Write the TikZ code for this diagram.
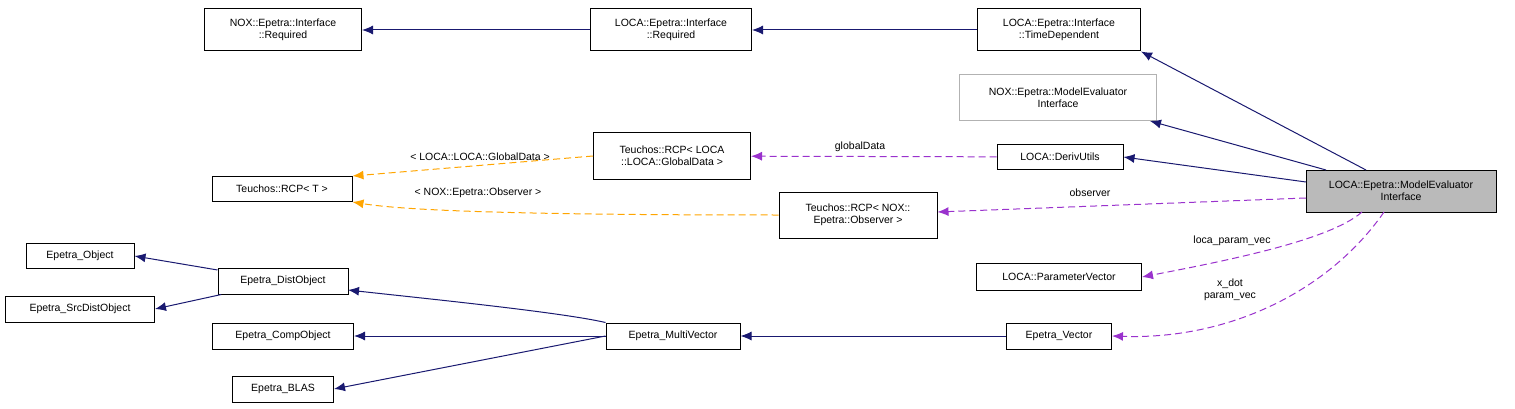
\documentclass[tikz,border=0pt]{standalone}
\usepackage{fontspec}
\setmainfont{Liberation Sans}
\usetikzlibrary{arrows.meta}
\definecolor{navy}{HTML}{191970}
\definecolor{purp}{HTML}{9A32CD}
\definecolor{orng}{HTML}{FFA500}
\begin{document}
\begin{tikzpicture}[x=1pt,y=-1pt,line width=1pt,
  box/.style={draw=black,fill=white,align=center,font=\fontsize{10.5}{12}\selectfont,inner sep=0pt,minimum height=#1},
  box/.default=26pt,
  inh/.style={draw=navy,-{Latex[length=11pt,width=9pt]}},
  use/.style={draw=purp,dash pattern=on 7pt off 4pt,-{Latex[length=11pt,width=9pt]}},
  tmpl/.style={draw=orng,dash pattern=on 7pt off 4pt,-{Latex[length=11pt,width=9pt]}},
  lbl/.style={font=\fontsize{10.5}{12}\selectfont,align=center,inner sep=1pt}]
\useasboundingbox (0,0) rectangle (1515,409);
\node[box=42pt,minimum width=157pt] (noxreq) at (283,30) {NOX::Epetra::Interface\\::Required};
\node[box=42pt,minimum width=161pt] (locareq) at (671,30) {LOCA::Epetra::Interface\\::Required};
\node[box=42pt,minimum width=163pt] (timedep) at (1059,30) {LOCA::Epetra::Interface\\::TimeDependent};
\node[box=46pt,minimum width=197pt,draw=black!30] (noxme) at (1058,98) {NOX::Epetra::ModelEvaluator\\Interface};
\node[box=24pt,minimum width=126pt] (deriv) at (1060,157) {LOCA::DerivUtils};
\node[box=46pt,minimum width=157pt] (rcpg) at (672,156) {Teuchos::RCP< LOCA\\::LOCA::GlobalData >};
\node[box=25pt,minimum width=140pt] (rcpt) at (282,189) {Teuchos::RCP< T >};
\node[box=46pt,minimum width=158pt] (rcpo) at (858,215) {Teuchos::RCP< NOX::\\Epetra::Observer >};
\node[box=42pt,minimum width=190pt,fill=black!27] (main) at (1401,191) {LOCA::Epetra::ModelEvaluator\\Interface};
\node[box=27pt,minimum width=165pt] (pv) at (1059,277) {LOCA::ParameterVector};
\node[box=25pt,minimum width=108pt] (eo) at (80,256) {Epetra\_Object};
\node[box=26pt,minimum width=130pt] (edo) at (283,281) {Epetra\_DistObject};
\node[box=26pt,minimum width=149pt] (esd) at (80,309) {Epetra\_SrcDistObject};
\node[box=26pt,minimum width=141pt] (eco) at (283,336) {Epetra\_CompObject};
\node[box=26pt,minimum width=134pt] (emv) at (673,336) {Epetra\_MultiVector};
\node[box=26pt,minimum width=105pt] (ev) at (1059,336) {Epetra\_Vector};
\node[box=26pt,minimum width=101pt] (eb) at (283,389) {Epetra\_BLAS};
\coordinate (m1) at (1366,170);
\coordinate (m2) at (1326,170);
\coordinate (m3) at (1306,182);
\coordinate (m4) at (1306,198);
\coordinate (m5) at (1362,212);
\coordinate (m6) at (1384,212);
\draw[inh] (locareq) -- (noxreq);
\draw[inh] (timedep) -- (locareq);
\draw[inh] (m1) -- (timedep.south east);
\draw[inh] (m2) -- (1150,121);
\draw[inh] (m3) -- (deriv.east);
\draw[use] (deriv) -- (rcpg);
\node[lbl] (l1) at (860,147) {globalData};
\draw[use] (m4) -- (rcpo);
\node[lbl] (l2) at (1090,193) {observer};
\draw[tmpl] (rcpg.west) -- (rcpt.north east);
\node[lbl] (l3) at (480,157) {< LOCA::LOCA::GlobalData >};
\draw[tmpl] (rcpo.west) .. controls (600,215) and (420,213) .. (rcpt.south east);
\node[lbl] (l4) at (478,193) {< NOX::Epetra::Observer >};
\draw[use] (m5) .. controls (1330,240) and (1230,260) .. (pv.east);
\node[lbl] (l5) at (1232,241) {loca\_param\_vec};
\draw[use] (m6) .. controls (1330,290) and (1230,340) .. (ev.east);
\node[lbl] (l6) at (1230,290) {x\_dot\\param\_vec};
\draw[inh] (edo) -- (eo.east);
\draw[inh] (edo) -- (esd.east);
\draw[inh] (emv.north west) ++(0,0) .. controls (560,312) and (420,298) .. (348,290);
\draw[inh] (emv) -- (eco);
\draw[inh] (emv.west) -- (eb.east);
\draw[inh] (ev) -- (emv);
\end{tikzpicture}
\end{document}
